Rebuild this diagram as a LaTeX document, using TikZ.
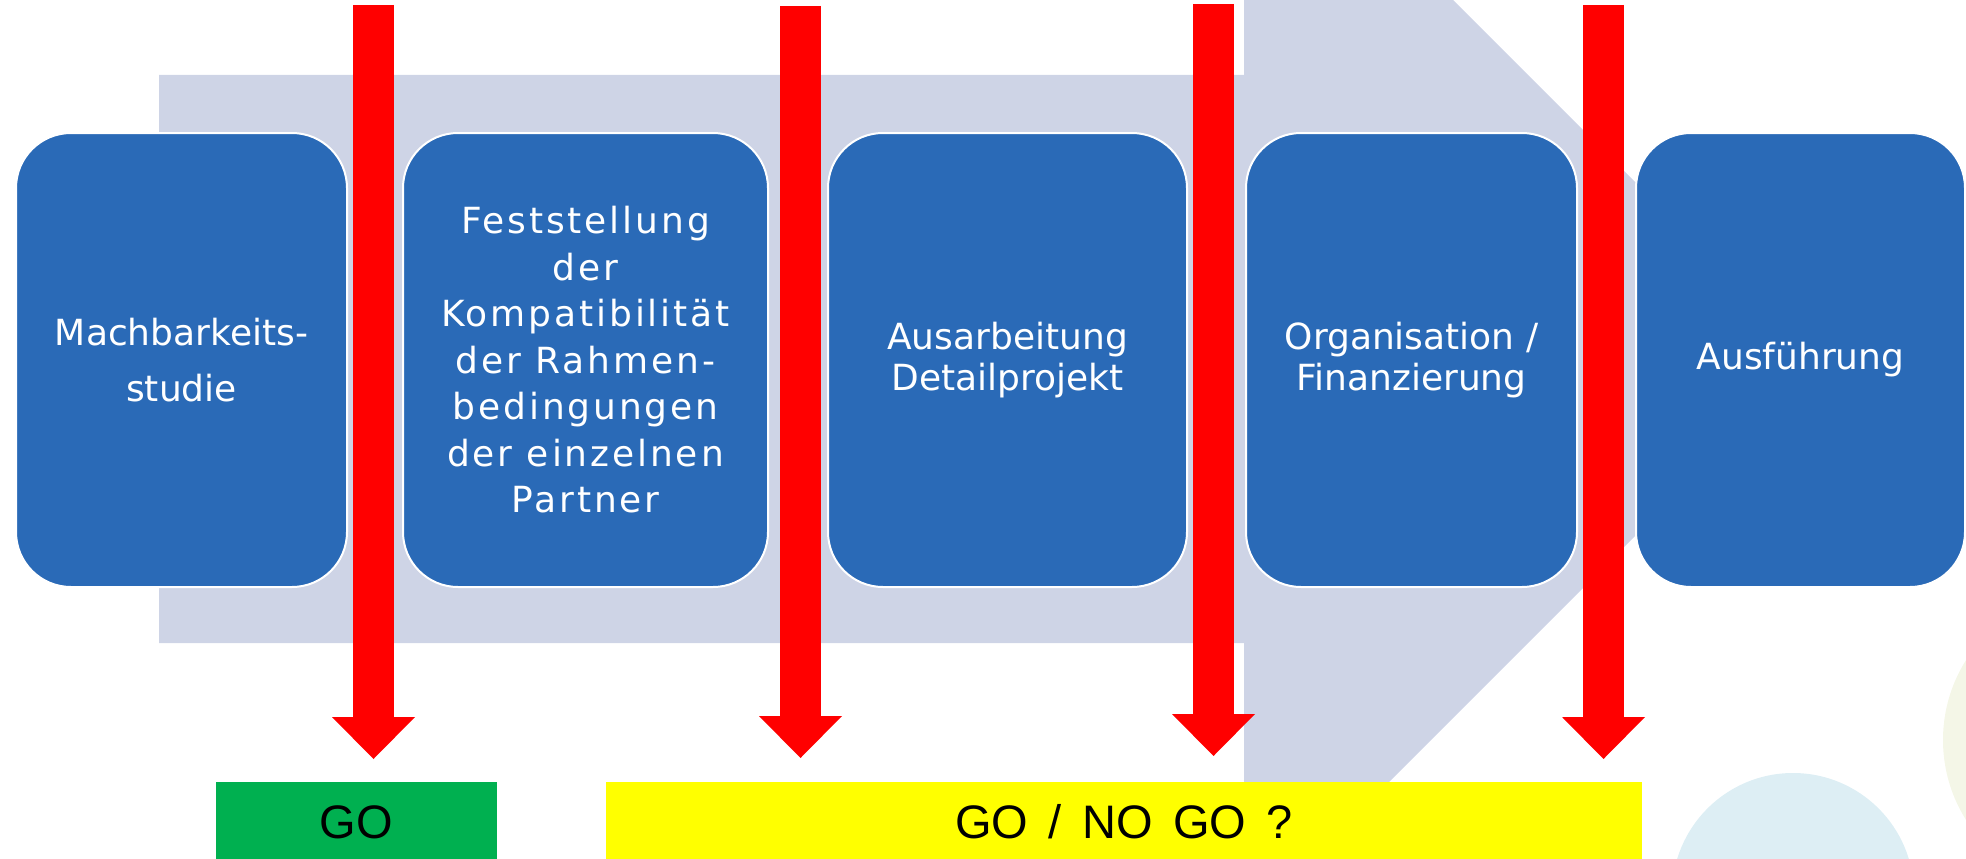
\documentclass[tikz,border=0pt]{standalone}
\usepackage{fontspec}
\setmainfont{DejaVu Sans}
\newfontfamily\gofont{Liberation Sans}
\newfontfamily\gatefont[WordSpace=1.25]{Liberation Sans}
\usetikzlibrary{positioning,arrows.meta}

\definecolor{stageblue}{RGB}{42,106,183}
\definecolor{bandgray}{RGB}{206,212,230}
\definecolor{gogreen}{RGB}{0,176,80}
\definecolor{gateyellow}{RGB}{255,255,0}
\definecolor{dotblue}{RGB}{221,238,244}
\definecolor{dotolive}{RGB}{244,246,231}

\begin{document}
\begin{tikzpicture}[
        x=1pt, y=-1pt,
        node distance = 57pt,
        stage/.style={draw=white, line width=2pt, fill=stageblue,
            rounded corners=55pt, minimum height=454pt, inner sep=0pt,
            text=white, align=center, font=\fontsize{36}{41}\selectfont},
        gate/.style={draw=red, line width=41pt,
            -{Triangle[length=42pt, width=83pt, line width=0pt]}},
        verdict/.style={minimum height=80pt, inner sep=0pt,
            font=\gofont\fontsize{47}{56}\selectfont}]

        \useasboundingbox (0,0) rectangle (1966,859);
        \clip (0,0) rectangle (1966,859);

        % BACKGROUND
        \fill[dotblue] (1793,894) circle (121);
        \fill[dotolive] (2093,740) circle (150);
        \fill[bandgray] (159,75) -- (1244,75) -- (1244,-209) -- (1812,359)
            -- (1244,927) -- (1244,643) -- (159,643) -- cycle;

        % NODES
        % stages
        \node[stage, minimum width=331pt, font=\fontsize{36}{56}\selectfont] (study) at (181.5,360) {Machbarkeits-\\studie};
        \node[stage, minimum width=365pt, right=54pt of study,
            font=\fontsize{36}{46.5}\selectfont\addfontfeatures{LetterSpace=8}] (compat)
            {Feststellung\\der\\Kompatibilität\\der Rahmen-\\bedingungen\\der einzelnen\\Partner};
        \node[stage, minimum width=359pt, right=58pt of compat] (detail) {Ausarbeitung\\Detailprojekt};
        \node[stage, minimum width=331pt, right=57pt of detail] (finance) {Organisation /\\Finanzierung};
        \node[stage, minimum width=329pt, right=57pt of finance] (build) {Ausführung};

        % decisions
        \node[verdict, fill=gogreen, minimum width=281pt] (go) at (356.5,822) {GO};
        \node[verdict, fill=gateyellow, minimum width=1036pt,
            font=\gatefont\fontsize{47}{56}\selectfont] (gonogo) at (1124,822) {GO / NO GO ?};

        % gate anchors
        \coordinate (gate1top) at (373.5,5);
        \coordinate (gate1tip) at (373.5,759);
        \coordinate (gate2top) at (800.5,6);
        \coordinate (gate2tip) at (800.5,758);
        \coordinate (gate3top) at (1213.5,4);
        \coordinate (gate3tip) at (1213.5,756);
        \coordinate (gate4top) at (1603.5,5);
        \coordinate (gate4tip) at (1603.5,759);

        % ARROWS
        \draw[gate] (gate1top)--(gate1tip);
        \draw[gate] (gate2top)--(gate2tip);
        \draw[gate] (gate3top)--(gate3tip);
        \draw[gate] (gate4top)--(gate4tip);
\end{tikzpicture}
\end{document}
